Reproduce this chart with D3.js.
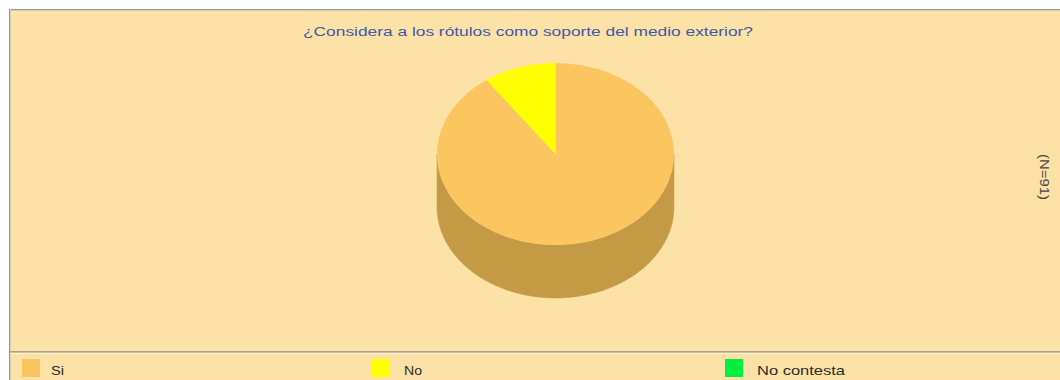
<!DOCTYPE html>
<html><head><meta charset="utf-8">
<script src="https://cdn.jsdelivr.net/npm/d3@7"></script>
<style>html,body{margin:0;padding:0;background:#fff;}svg{display:block;}</style>
</head><body>
<svg id="c" width="1060" height="380"></svg>
<script>
const title = "¿Considera a los rótulos como soporte del medio exterior?";
const categories = ["Si", "No", "No contesta"];
const values = [82, 9, 0];
const colors = ["#FBC55F", "#FFFF00", "#00F040"];
const sideColors = ["#C49A45", "#BDBD00", "#00B030"];
const nLabel = "(N=91)";

const svg = d3.select("#c");
const W = 1060, H = 380;

// panel
svg.append("rect").attr("x", 9).attr("y", 9).attr("width", W - 9).attr("height", H - 9).attr("fill", "#FDE2A7");
svg.append("line").attr("x1", 9).attr("x2", W).attr("y1", 9.5).attr("y2", 9.5).attr("stroke", "#9C968C").attr("stroke-width", 1);
svg.append("line").attr("x1", 9).attr("x2", W).attr("y1", 10.5).attr("y2", 10.5).attr("stroke", "#D8CDB0").attr("stroke-width", 1);
svg.append("line").attr("x1", 9.5).attr("x2", 9.5).attr("y1", 9).attr("y2", H).attr("stroke", "#9C968C").attr("stroke-width", 1);
svg.append("line").attr("x1", 10.5).attr("x2", 10.5).attr("y1", 9).attr("y2", H).attr("stroke", "#D8CDB0").attr("stroke-width", 1);
// legend separator
svg.append("line").attr("x1", 10).attr("x2", W).attr("y1", 351.5).attr("y2", 351.5).attr("stroke", "#A8A090").attr("stroke-width", 1);
svg.append("line").attr("x1", 10).attr("x2", W).attr("y1", 352.5).attr("y2", 352.5).attr("stroke", "#C8BEA4").attr("stroke-width", 1);
svg.append("line").attr("x1", 10).attr("x2", W).attr("y1", 353.5).attr("y2", 353.5).attr("stroke", "#FFF2CC").attr("stroke-width", 1);

// title
svg.append("text").attr("x", 528).attr("y", 36).attr("text-anchor", "middle")
  .attr("font-family", "Liberation Sans, Arial, sans-serif").attr("font-size", 12)
  .attr("fill", "#3A5BA8").attr("textLength", 450).attr("lengthAdjust", "spacingAndGlyphs")
  .text(title);

// N label
svg.append("text").attr("transform", "translate(1040,177) rotate(90)").attr("text-anchor", "middle")
  .attr("font-family", "Liberation Sans, Arial, sans-serif").attr("font-size", 12)
  .attr("fill", "#444").attr("textLength", 46).attr("lengthAdjust", "spacingAndGlyphs").text(nLabel);

// 3D pie
const cx = 555.5, cy = 154, rx = 118.5, ry = 91, depth = 53;
const pie = d3.pie().sort(null).value(d => d)(values);
const pt = (a, dy) => [cx + rx * Math.sin(a), cy - ry * Math.cos(a) + dy];
const g = svg.append("g");
// side
pie.forEach((s, i) => {
  const a0 = Math.max(s.startAngle, Math.PI / 2), a1 = Math.min(s.endAngle, 3 * Math.PI / 2);
  if (a1 <= a0) return;
  const n = 60, top = [], bot = [];
  for (let k = 0; k <= n; k++) {
    const a = a0 + (a1 - a0) * k / n;
    top.push(pt(a, 0)); bot.push(pt(a, depth));
  }
  const poly = top.concat(bot.reverse());
  g.append("path").attr("d", d3.line()(poly) + "Z").attr("fill", sideColors[i]).attr("stroke", sideColors[i]).attr("stroke-width", 0.5);
});
// top
const arc = d3.arc().innerRadius(0).outerRadius(1);
g.append("g").attr("transform", `translate(${cx},${cy}) scale(${rx},${ry})`)
  .selectAll("path").data(pie).join("path")
  .attr("d", arc).attr("fill", (d, i) => colors[i]);

// legend
const lx = [22, 372, 725], tx = [51, 404, 757], tw = [13, 18, 88];
categories.forEach((c, i) => {
  svg.append("rect").attr("x", lx[i]).attr("y", 359).attr("width", 18).attr("height", 18).attr("fill", colors[i]);
  svg.append("text").attr("x", tx[i]).attr("y", 375)
    .attr("font-family", "Liberation Sans, Arial, sans-serif").attr("font-size", 13)
    .attr("fill", "#2a2a2a").attr("textLength", tw[i]).attr("lengthAdjust", "spacingAndGlyphs").text(c);
});
</script>
</body></html>
